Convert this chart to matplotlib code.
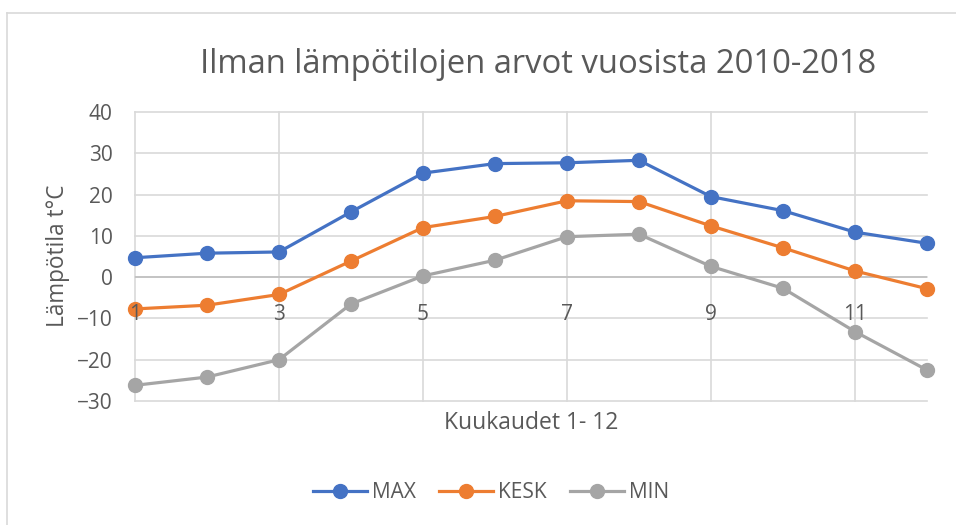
import numpy as np
import matplotlib.pyplot as plt
from matplotlib.lines import Line2D

# Monthly temperature values 2010-2018
months = np.arange(1, 13)
max_temp = [4.7, 5.8, 6.1, 15.8, 25.2, 27.5, 27.7, 28.3, 19.5, 16.1, 10.9, 8.2]
kesk_temp = [-7.7, -6.8, -4.2, 3.9, 12.0, 14.7, 18.5, 18.3, 12.4, 7.1, 1.5, -2.8]
min_temp = [-26.2, -24.2, -20.0, -6.5, 0.3, 4.1, 9.8, 10.4, 2.6, -2.7, -13.2, -22.5]
series_names = ['MAX', 'KESK', 'MIN']
colors = ['#4472C4', '#ED7D31', '#A5A5A5']
xticks = [1, 3, 5, 7, 9, 11]
yticks = np.arange(-30, 41, 10)

plt.rcParams['font.family'] = ['Open Sans', 'DejaVu Sans']
txt = '#595959'

fig = plt.figure(figsize=(9.56, 5.25), dpi=100)
ax = fig.add_axes([135 / 956, 1 - 401 / 525, 792 / 956, 289 / 525])

for vals, name, c in zip([max_temp, kesk_temp, min_temp], series_names, colors):
    ax.plot(months, vals, color=c, lw=2.3, marker='o', markersize=10,
            label=name, clip_on=False, zorder=3)

ax.set_xlim(1, 12)
ax.set_ylim(-30, 40)
ax.set_xticks(xticks)
ax.set_yticks(yticks)

# gridlines drawn by hand so that tick labels can sit above the markers
for yv in yticks:
    ax.axhline(yv, color='#d9d9d9', lw=1.2, zorder=0, clip_on=False)
for xv in xticks:
    ax.axvline(xv, color='#d9d9d9', lw=1.2, zorder=0, clip_on=False)
ax.axhline(0, color='#bfbfbf', lw=1.2, zorder=1)

for s in ax.spines.values():
    s.set_visible(False)
ax.spines['bottom'].set_position(('data', 0))
ax.xaxis.set_zorder(5)
ax.tick_params(axis='x', length=0, pad=19, labelsize=15, colors=txt)
ax.tick_params(axis='y', length=0, pad=16, labelsize=15, colors=txt)

fig.text(58 / 956, 1 - 256 / 525, 'Lämpötila t°C', fontsize=16.3, color=txt,
         ha='center', va='center', rotation=90)
fig.text(531 / 956, 1 - 423 / 525, 'Kuukaudet 1- 12', fontsize=16.5, color=txt,
         ha='center', va='center')
fig.text(538 / 956, 1 - 64 / 525, 'Ilman lämpötilojen arvot vuosista 2010-2018',
         fontsize=23.6, color=txt, ha='center', va='center')

leg = fig.legend(loc='center', bbox_to_anchor=(491 / 956, 1 - 493 / 525), ncol=3,
                 frameon=False, fontsize=15, handlelength=2.6, handletextpad=0.25,
                 columnspacing=1.1, labelcolor=txt)

# chart area border (top and left only visible)
fig.add_artist(Line2D([7 / 956, 7 / 956], [0, 1 - 13 / 525], color='#d9d9d9', lw=1.2))
fig.add_artist(Line2D([7 / 956, 1], [1 - 13 / 525, 1 - 13 / 525], color='#d9d9d9', lw=1.2))

fig.savefig('out.png', dpi=100)
